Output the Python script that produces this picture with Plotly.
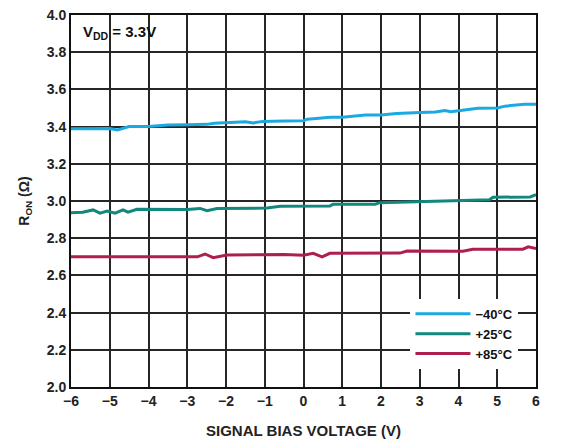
import plotly.graph_objects as go

# Data
x_m40 = [-6, -5.2, -5, -4.8, -4.5, -4, -3.5, -3, -2.5, -2.3, -2, -1.5, -1.3, -1.05, -0.5, 0, 0.1,
         0.7, 1.0, 1.6, 2.0, 2.4, 3.0, 3.4, 3.65, 3.8, 4.0, 4.5, 5.0, 5.2, 5.7, 6]
r_m40 = [3.388, 3.388, 3.39, 3.382, 3.40, 3.40, 3.408, 3.41, 3.412, 3.418, 3.42, 3.426, 3.42, 3.428,
         3.43, 3.432, 3.44, 3.45, 3.45, 3.462, 3.463, 3.47, 3.476, 3.478, 3.487, 3.48, 3.485, 3.498,
         3.50, 3.51, 3.52, 3.52]

x_p25 = [-6, -5.7, -5.43, -5.25, -5.07, -4.86, -4.66, -4.53, -4.3, -3.0, -2.67, -2.49, -2.23, -0.94,
         -0.6, 0.0, 0.68, 0.76, 1.85, 1.97, 3.0, 4.04, 4.8, 4.89, 5.15, 5.85, 6]
r_p25 = [2.937, 2.94, 2.952, 2.935, 2.946, 2.935, 2.952, 2.94, 2.955, 2.954, 2.96, 2.948, 2.96, 2.962,
         2.972, 2.971, 2.973, 2.982, 2.983, 2.991, 2.996, 3.005, 3.007, 3.02, 3.02, 3.022, 3.034]

x_p85 = [-6, -4.0, -2.74, -2.54, -2.33, -1.98, -0.5, 0.0, 0.25, 0.48, 0.68, 2.49, 2.67, 4.11, 4.37,
         5.66, 5.8, 6]
r_p85 = [2.70, 2.70, 2.70, 2.715, 2.695, 2.71, 2.712, 2.708, 2.719, 2.70, 2.719, 2.72, 2.731, 2.73,
         2.74, 2.741, 2.754, 2.745]

series_names = ["\u221240°C", "+25°C", "+85°C"]
series_colors = ["#1BA9E1", "#12877D", "#AE1F50"]

x_ticks = list(range(-6, 7))
y_ticks = [2.0, 2.2, 2.4, 2.6, 2.8, 3.0, 3.2, 3.4, 3.6, 3.8, 4.0]

FONT = "Liberation Sans, Arial, sans-serif"
GRID = "#262626"

fig = go.Figure()
for xs, ys, name, col in zip([x_m40, x_p25, x_p85], [r_m40, r_p25, r_p85], series_names, series_colors):
    fig.add_trace(go.Scatter(x=xs, y=ys, mode="lines", name=name,
                             line=dict(color=col, width=3)))

fig.update_layout(
    template="none",
    width=565, height=439,
    margin=dict(l=71, r=29, t=15, b=52, pad=0),
    paper_bgcolor="white", plot_bgcolor="white",
    font=dict(family=FONT, size=13, color="#222"),
    showlegend=True,
    legend=dict(x=0.73, y=0.237, xanchor="left", yanchor="top",
                bgcolor="white", borderwidth=0,
                font=dict(family=FONT, size=13, color="#111", weight="bold"),
                itemwidth=55, tracegroupgap=0),
    annotations=[dict(x=0.022, y=0.952, xref="paper", yref="paper", xanchor="left", yanchor="middle",
                      text="<b>V<sub>DD</sub>\u00a0= 3.3V</b>", showarrow=False,
                      font=dict(family=FONT, size=15, color="#111"))],
)
fig.update_xaxes(range=[-6, 6], tickmode="array", tickvals=x_ticks,
                 ticktext=[("\u2212" + str(-t)) if t < 0 else str(t) for t in x_ticks],
                 showgrid=True, gridcolor=GRID, gridwidth=1.5, layer="below traces",
                 showline=True, linecolor="#111", linewidth=2, mirror=True,
                 ticks="", zeroline=False,
                 tickfont=dict(family=FONT, size=14, color="#222", weight="bold"),
                 title=dict(text="SIGNAL BIAS VOLTAGE (V)", standoff=18,
                            font=dict(family=FONT, size=15, color="#222", weight="bold")))
fig.update_yaxes(range=[2.0, 4.0], tickmode="array", tickvals=y_ticks,
                 ticktext=[f"{v:.1f}" for v in y_ticks],
                 showgrid=True, gridcolor=GRID, gridwidth=1.5, layer="below traces",
                 showline=True, linecolor="#111", linewidth=2, mirror=True,
                 ticks="", zeroline=False,
                 tickfont=dict(family=FONT, size=14, color="#222", weight="bold"),
                 title=dict(text="R<sub>ON</sub> (Ω)", standoff=14,
                            font=dict(family=FONT, size=14, color="#222", weight="bold")))

fig.write_html("out.html")
